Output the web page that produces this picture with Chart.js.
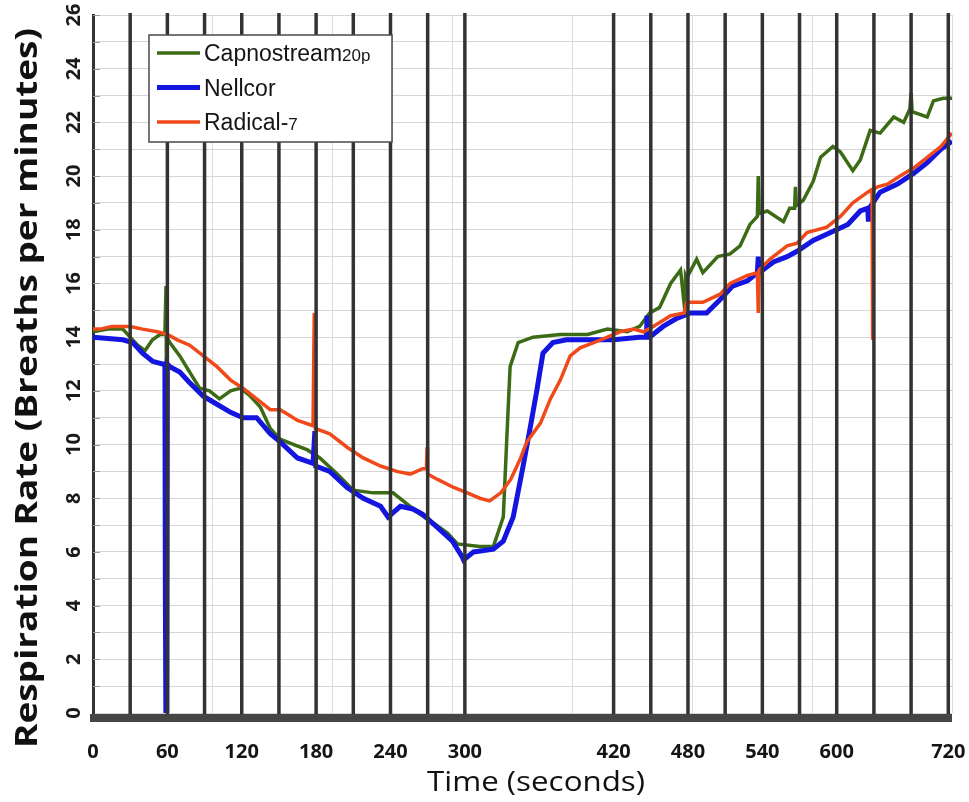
<!DOCTYPE html>
<html>
<head>
<meta charset="utf-8">
<script src="https://cdn.jsdelivr.net/npm/chart.js@4.4.1/dist/chart.umd.min.js"></script>
<style>
  html, body { margin: 0; padding: 0; background: #fff; }
  #wrap { width: 969px; height: 802px; }
</style>
</head>
<body>
<div id="wrap"><canvas id="rrChart" width="969" height="802"></canvas></div>
<script>
// ==========================================
// DATA  (time in seconds, rate in breaths/min)
// ==========================================
const yTickValues = [0, 2, 4, 6, 8, 10, 12, 14, 16, 18, 20, 22, 24, 26];
const xTickValues = [0, 60, 120, 180, 240, 300, 420, 480, 540, 600, 690];
const xTickLabels = ['0', '60', '120', '180', '240', '300', '420', '480', '540', '600', '720'];
const markerTimes = [30, 60, 90, 120, 150, 180, 210, 240, 270, 300,
                     420, 450, 480, 510, 540, 570, 600, 630, 660, 690];

const seriesNames = ['Capnostream20p', 'Nellcor', 'Radical-7'];
const legendMain = ['Capnostream', 'Nellcor', 'Radical-'];
const legendSmall = ['20p', '', '7'];

const capnostream = [
  [0, 14.2], [12, 14.3], [24, 14.3], [30, 14.0], [36, 13.7], [42, 13.5], [48, 13.9], [54, 14.1], [58, 14.1],
  [58.9, 15.9], [59.3, 11.8], [59.7, 14.0], [62, 13.8], [70, 13.3], [78, 12.7], [86, 12.1],
  [94, 12.0], [102, 11.7], [111, 12.0], [119, 12.1], [127, 11.8], [135, 11.4], [143, 10.6],
  [151, 10.2], [162, 10.0], [173, 9.8], [183, 9.5], [197, 8.9], [210, 8.3], [226, 8.2], [242, 8.2],
  [253, 7.8], [264, 7.4], [274, 7.1], [286, 6.7], [294, 6.3], [312, 6.2], [323, 6.2],
  [331, 7.3], [334, 10.4], [336.5, 12.9], [343, 13.8], [355, 14.0], [377, 14.1], [399, 14.1],
  [415, 14.3], [431, 14.2], [441, 14.4], [449, 14.9], [457, 15.1], [466, 16.0], [474, 16.5],
  [477.5, 15.0], [478, 16.3], [479, 16.2], [487, 16.9], [492, 16.4], [504, 17.0], [514, 17.1],
  [522, 17.4], [530, 18.2], [536, 18.5], [536.7, 20.0], [537.4, 18.6], [544, 18.7], [557, 18.3],
  [562, 18.8], [566, 18.8], [566.7, 19.6], [567.4, 18.9], [573, 19.1], [581, 19.8], [587, 20.7],
  [597, 21.1], [603, 20.9], [613, 20.2], [619, 20.6], [627, 21.7], [635, 21.6], [646, 22.2],
  [654, 22.0], [659, 22.5], [660, 23.1], [660.8, 22.4], [667, 22.3], [673, 22.2], [678, 22.8],
  [686, 22.9], [693, 22.9]
];

const nellcor = [
  [0, 14.0], [24, 13.9], [32, 13.8], [40, 13.4], [48, 13.1], [56, 13.0], [58, 13.0],
  [58.4, 4.3], [58.8, 0], [59.6, 0], [60, 13.0], [62, 12.9], [70, 12.7], [78, 12.3],
  [89, 11.8], [100, 11.5], [111, 11.2], [121, 11.0], [132, 11.0], [143, 10.4], [151, 10.1],
  [165, 9.5], [177.5, 9.3], [179, 10.5], [179.6, 9.2], [191, 9.0], [205, 8.4], [218, 8.0],
  [232, 7.7], [238, 7.3], [248, 7.7], [258, 7.6], [266, 7.4], [278, 6.9], [290, 6.4],
  [298, 5.8], [299, 5.7], [307, 6.0], [323, 6.1], [331, 6.4], [339, 7.3], [347, 9.2],
  [353, 10.7], [358, 12.0], [363, 13.4], [371, 13.8], [382, 13.9], [420, 13.9], [441, 14.0],
  [446.5, 14.0], [447, 14.8], [447.5, 14.0], [449, 14.0], [460, 14.4], [471, 14.7], [482, 14.9],
  [495, 14.9], [506, 15.4], [516, 15.9], [528, 16.1], [536, 16.4], [536.7, 17.0], [537.4, 16.4],
  [549, 16.8], [560, 17.0], [568, 17.2], [581, 17.6], [595, 17.9], [609, 18.2], [619, 18.7],
  [625, 18.8], [625.6, 18.3], [626.2, 18.8], [635, 19.4], [649, 19.7], [662, 20.1], [673, 20.5],
  [684, 21.0], [693, 21.3]
];

const radical7 = [
  [0, 14.3], [6, 14.3], [15, 14.4], [24, 14.4], [30, 14.4], [40, 14.3], [52, 14.2], [60, 14.1], [68, 13.9],
  [78, 13.7], [89, 13.3], [100, 12.9], [111, 12.4], [121, 12.1], [132, 11.7], [143, 11.3],
  [151, 11.3], [158, 11.1], [165, 10.9], [177.5, 10.7], [178.5, 14.9], [179.3, 10.6],
  [191, 10.4], [205, 9.9], [218, 9.5], [232, 9.2], [245, 9.0], [256, 8.9], [266, 9.1],
  [269, 9.1], [269.5, 9.9], [270, 8.9], [278, 8.7], [291, 8.4], [302, 8.2], [312, 8.0],
  [320, 7.9], [329, 8.2], [337, 8.7], [345, 9.5], [350, 10.1], [361, 10.8], [369, 11.7],
  [377, 12.4], [385, 13.3], [393, 13.6], [404, 13.8], [415, 14.0], [425, 14.2], [436, 14.3],
  [444, 14.2], [452, 14.4], [466, 14.8], [477, 14.9], [479, 15.3], [492, 15.3], [506, 15.6],
  [514, 16.0], [528, 16.3], [536, 16.4], [536.7, 14.9], [537.4, 16.5], [546, 16.9], [560, 17.4],
  [568, 17.5], [576, 17.9], [592, 18.1], [603, 18.5], [613, 19.0], [625, 19.4], [628.5, 19.5],
  [629, 13.9], [629.6, 19.5], [633, 19.6], [641, 19.7], [651, 20.0], [662, 20.3], [673, 20.7],
  [684, 21.1], [693, 21.6]
];

const seriesColors = ['#3b6b14', '#1515e0', '#f04a1a'];
const seriesWidths = [3.5, 5, 3.5];

function toPoints(arr) {
  return arr.map(p => ({ x: p[0], y: p[1] }));
}

// ==========================================
// TEXT HELPERS
// ==========================================
// draws text centred at (cx, cy), stretched along its own direction to targetLen
function drawStretched(ctx, text, cx, cy, font, targetLen, angle) {
  ctx.save();
  ctx.font = font;
  ctx.translate(cx, cy);
  ctx.rotate(angle);
  const w = ctx.measureText(text).width;
  ctx.scale(targetLen / w, 1);
  ctx.textAlign = 'center';
  ctx.textBaseline = 'middle';
  ctx.fillText(text, 0, 0);
  ctx.restore();
}

// ==========================================
// DECORATION PLUGIN (markers, bottom bar, labels, legend)
// ==========================================
const decorPlugin = {
  id: 'decor',
  beforeDatasetsDraw(chart) {
    const { ctx, chartArea: a, scales: { y } } = chart;
    ctx.save();
    // short ticks inside the left axis
    ctx.strokeStyle = '#9a9a9a';
    ctx.lineWidth = 1;
    for (let v = 1; v <= 26; v++) {
      const py = Math.round(y.getPixelForValue(v)) + 0.5;
      ctx.beginPath();
      ctx.moveTo(a.left, py);
      ctx.lineTo(a.left + 7, py);
      ctx.stroke();
    }
    ctx.restore();
  },
  afterDatasetsDraw(chart) {
    const { ctx, chartArea: a, scales: { x, y } } = chart;
    ctx.save();

    // event markers
    ctx.strokeStyle = '#333333';
    ctx.lineWidth = 3.5;
    markerTimes.forEach(t => {
      const px = x.getPixelForValue(t);
      ctx.beginPath();
      ctx.moveTo(px, a.top - 2);
      ctx.lineTo(px, a.bottom + 2);
      ctx.stroke();
    });

    // thick bottom bar
    ctx.fillStyle = '#454545';
    ctx.fillRect(a.left - 3, a.bottom + 1, a.right - a.left + 3, 8);

    // rotated y tick labels
    ctx.fillStyle = '#1a1a1a';
    ctx.font = 'bold 20px "Open Sans"';
    ctx.textAlign = 'center';
    ctx.textBaseline = 'middle';
    yTickValues.forEach(v => {
      ctx.save();
      ctx.translate(a.left - 19, y.getPixelForValue(v));
      ctx.rotate(-Math.PI / 2);
      ctx.fillText(String(v), 0, 0);
      ctx.restore();
    });

    // axis titles
    ctx.fillStyle = '#111';
    drawStretched(ctx, 'Respiration Rate (Breaths per minutes)', 28, 388,
      'bold 30px "Open Sans"', 720, -Math.PI / 2);
    drawStretched(ctx, 'Time (seconds)', 536, 783, '27px "Open Sans"', 218, 0);

    // legend box
    const bx = a.left + 56, by = a.top + 20, bw = 243, bh = 107;
    ctx.fillStyle = '#ffffff';
    ctx.fillRect(bx, by, bw, bh);
    ctx.strokeStyle = '#4a4a4a';
    ctx.lineWidth = 1.5;
    ctx.strokeRect(bx, by, bw, bh);

    ctx.textAlign = 'left';
    ctx.textBaseline = 'alphabetic';
    seriesNames.forEach((name, i) => {
      const ry = by + 18 + i * 34.5;
      ctx.strokeStyle = seriesColors[i];
      ctx.lineWidth = seriesWidths[i];
      ctx.beginPath();
      ctx.moveTo(bx + 8, ry);
      ctx.lineTo(bx + 51, ry);
      ctx.stroke();

      ctx.fillStyle = '#151515';
      ctx.font = '23px "Liberation Sans"';
      ctx.fillText(legendMain[i], bx + 55, ry + 8);
      if (legendSmall[i]) {
        const w = ctx.measureText(legendMain[i]).width;
        ctx.font = '17px "Liberation Sans"';
        ctx.fillText(legendSmall[i], bx + 55 + w, ry + 8);
      }
    });

    ctx.restore();
  }
};

// ==========================================
// CHART
// ==========================================
const ctxRR = document.getElementById('rrChart').getContext('2d');
const datasets = [capnostream, nellcor, radical7].map((arr, i) => ({
  label: seriesNames[i],
  data: toPoints(arr),
  borderColor: seriesColors[i],
  borderWidth: seriesWidths[i],
  pointRadius: 0,
  tension: 0,
  fill: false,
  order: 3 - i
}));

const rrChart = new Chart(ctxRR, {
  type: 'line',
  data: { datasets: datasets },
  options: {
    responsive: false,
    animation: false,
    layout: { padding: { top: 15, right: 17, left: 0, bottom: 0 } },
    plugins: {
      legend: { display: false },
      tooltip: { enabled: false }
    },
    scales: {
      x: {
        type: 'linear',
        min: 0,
        max: 693,
        afterBuildTicks: s => { s.ticks = xTickValues.map(v => ({ value: v })); },
        afterFit: s => { s.height = 89; s.paddingLeft = 0; s.paddingRight = 0; },
        ticks: {
          autoSkip: false,
          maxRotation: 0,
          padding: 19,
          color: '#151515',
          font: { family: '"Open Sans"', size: 20, weight: 'bold' },
          callback: (v, i) => xTickLabels[i]
        },
        grid: { display: false },
        border: { display: false }
      },
      xg: {
        type: 'linear',
        position: 'bottom',
        min: 0,
        max: 7.16,
        afterFit: s => { s.height = 0; s.paddingLeft = 0; s.paddingRight = 0; },
        ticks: { display: false, stepSize: 1 },
        grid: { color: '#dcdcdc', drawTicks: false },
        border: { display: false }
      },
      y: {
        min: 0,
        max: 26,
        afterFit: s => { s.width = 93; s.paddingTop = 0; s.paddingBottom = 0; },
        ticks: { display: false, stepSize: 1 },
        grid: { color: '#d6d6d6', drawTicks: false },
        border: { display: true, color: '#333333', width: 3 }
      }
    }
  },
  plugins: [decorPlugin]
});
</script>
</body>
</html>
